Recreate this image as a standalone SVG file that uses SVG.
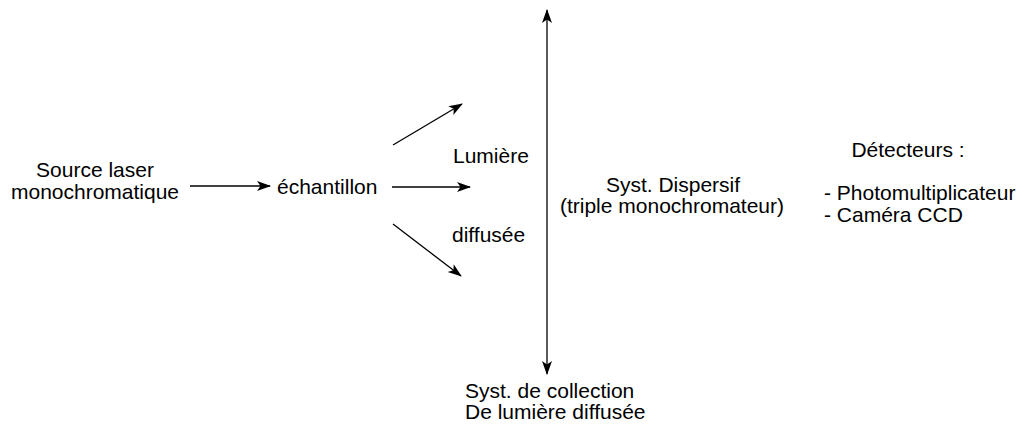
<svg xmlns="http://www.w3.org/2000/svg" width="1023" height="434" viewBox="0 0 1023 434">
<style>
text{font-family:"Liberation Sans",Arial,sans-serif;font-size:21px;fill:#000}
.c{text-anchor:middle}
line{stroke:#000;stroke-width:1.3;fill:none}
</style>
<defs>
<marker id="ah" markerUnits="userSpaceOnUse" markerWidth="14" markerHeight="12" refX="13" refY="5" orient="auto-start-reverse" viewBox="0 0 14 10">
<path d="M0,0 L14,5 L0,10 L3.5,5 z" fill="#000"/>
</marker>
</defs>
<rect width="1023" height="434" fill="#fff"/>
<g id="source"><text class="c" x="95" y="177">Source laser</text><text class="c" x="95" y="199">monochromatique</text></g>
<g id="echantillon"><text x="277" y="194">échantillon</text></g>
<g id="lumiere"><text x="453" y="163">Lumière</text><text x="452" y="242">diffusée</text></g>
<g id="dispersif"><text class="c" x="673" y="192">Syst. Dispersif</text><text class="c" x="672" y="213">(triple monochromateur)</text></g>
<g id="detecteurs"><text class="c" x="908" y="157">Détecteurs :</text><text x="824" y="200">- Photomultiplicateur</text><text x="824" y="222">- Caméra CCD</text></g>
<g id="collection"><text x="465" y="398">Syst. de collection</text><text x="465" y="419">De lumière diffusée</text></g>
<g id="connectors">
<line x1="190" y1="186" x2="270" y2="186" marker-end="url(#ah)"/>
<line x1="392" y1="187" x2="470" y2="187" marker-end="url(#ah)"/>
<line x1="393" y1="145" x2="462" y2="104" marker-end="url(#ah)"/>
<line x1="393" y1="224" x2="461" y2="276" marker-end="url(#ah)"/>
<line x1="547" y1="10" x2="547" y2="374" marker-start="url(#ah)" marker-end="url(#ah)"/>
</g>
</svg>
